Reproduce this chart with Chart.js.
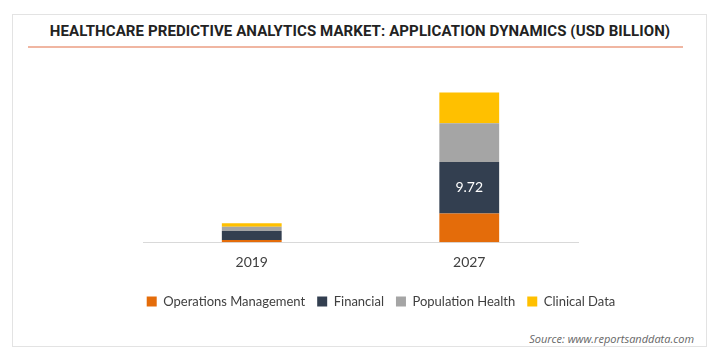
<!DOCTYPE html>
<html>
<head>
<meta charset="utf-8">
<script src="https://cdn.jsdelivr.net/npm/chart.js@4/dist/chart.umd.min.js"></script>
<style>
  html, body { margin: 0; padding: 0; background: #fff; width: 720px; height: 360px; overflow: hidden; }
  .card { position: absolute; left: 12px; top: 14px; width: 695px; height: 333px; border: 1px solid #e3e3e3; box-sizing: border-box; }
  .title { position: absolute; left: 0; top: 22px; width: 720px; text-align: center; font-family: Roboto, sans-serif; font-weight: bold; font-size: 15px; color: #222; letter-spacing: 0.1px; }
  .rule { position: absolute; left: 28px; top: 46px; width: 655px; height: 2px; background: #f0b6a2; }
  .source { position: absolute; right: 26px; top: 331px; font-family: "Open Sans", sans-serif; font-style: italic; font-size: 11px; color: #666; }
  #chart { position: absolute; left: 42px; top: 62px; }
</style>
</head>
<body>
<div class="card"></div>
<div class="title">HEALTHCARE PREDICTIVE ANALYTICS MARKET: APPLICATION DYNAMICS (USD BILLION)</div>
<div class="rule"></div>
<canvas id="chart" width="678" height="262"></canvas>
<div class="source">Source: www.reportsanddata.com</div>
<script>
// data (USD billion)
const years = ['2019', '2027'];
const operations = [0.43, 5.4];
const financial = [1.68, 9.72];
const population = [0.82, 7.3];
const clinical = [0.62, 5.8];
// only the 2027 financial value is printed on the bar
const financialLabels = ['', '9.72'];

const valueLabel = {
  id: 'valueLabel',
  afterDatasetsDraw(chart) {
    const ctx = chart.ctx;
    const meta = chart.getDatasetMeta(1);
    ctx.save();
    ctx.fillStyle = '#ffffff';
    ctx.font = '14px Lato, sans-serif';
    ctx.textAlign = 'center';
    ctx.textBaseline = 'middle';
    meta.data.forEach((bar, i) => {
      if (!financialLabels[i]) return;
      const p = bar.getProps(['x', 'y', 'base'], true);
      ctx.fillText(financialLabels[i], p.x, (p.y + p.base) / 2);
    });
    ctx.restore();
  }
};

new Chart(document.getElementById('chart'), {
  type: 'bar',
  data: {
    labels: years,
    datasets: [
      { label: 'Operations Management', data: operations, backgroundColor: '#e46c0a' },
      { label: 'Financial', data: financial, backgroundColor: '#333f50' },
      { label: 'Population Health', data: population, backgroundColor: '#a5a5a5' },
      { label: 'Clinical Data', data: clinical, backgroundColor: '#ffc000' }
    ]
  },
  options: {
    responsive: false,
    animation: false,
    devicePixelRatio: 1,
    layout: { padding: { top: 21, bottom: 6 } },
    datasets: { bar: { barPercentage: 0.55, categoryPercentage: 0.5 } },
    plugins: {
      legend: {
        position: 'bottom',
        labels: {
          boxWidth: 10, boxHeight: 10, padding: 12,
          color: '#404040',
          font: { family: 'Lato, sans-serif', size: 13 }
        }
      },
      tooltip: { enabled: false }
    },
    scales: {
      x: {
        stacked: true,
        grid: { display: false, drawTicks: false },
        border: { display: true, color: '#d9d9d9' },
        ticks: { padding: 12, color: '#404040', font: { family: 'Lato, sans-serif', size: 14 } }
      },
      y: {
        stacked: true,
        min: 0, max: 30,
        grid: { display: false },
        border: { display: false },
        ticks: { display: false },
        afterFit(scale) { scale.width = 101; }
      },
      y2: {
        position: 'right',
        min: 0, max: 30,
        grid: { display: false },
        border: { display: false },
        ticks: { display: false },
        afterFit(scale) { scale.width = 142; }
      }
    }
  },
  plugins: [valueLabel]
});
</script>
</body>
</html>
